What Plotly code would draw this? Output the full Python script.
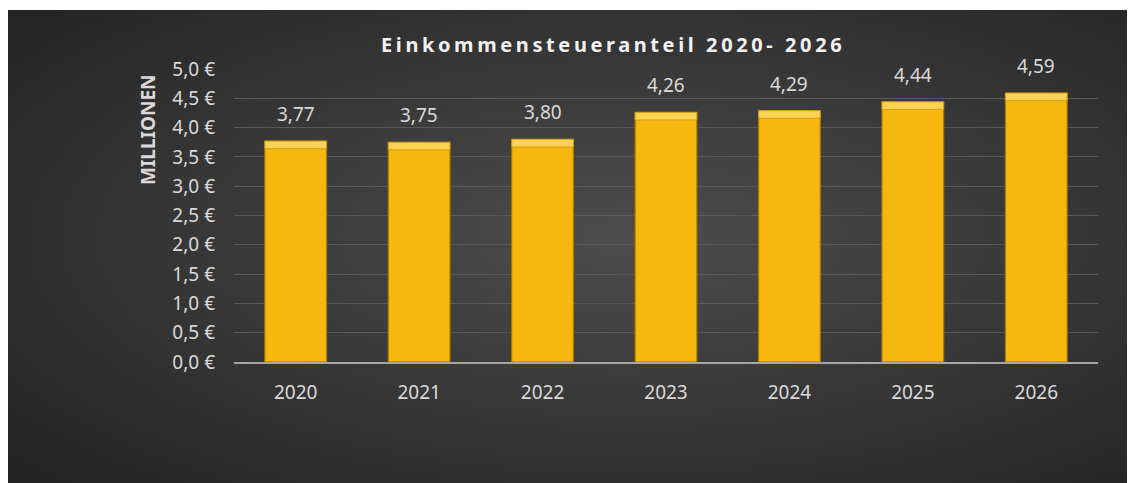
import plotly.graph_objects as go
import urllib.parse

years = ["2020", "2021", "2022", "2023", "2024", "2025", "2026"]
values = [3.77, 3.75, 3.80, 4.26, 4.29, 4.44, 4.59]
tick_vals = [0, 0.5, 1.0, 1.5, 2.0, 2.5, 3.0, 3.5, 4.0, 4.5, 5.0]
tick_text = [f"{v:.1f}".replace(".", ",") + " €" for v in tick_vals]
title_text = "Einkommensteueranteil 2020- 2026"
axis_title = "MILLIONEN"

# page offset caused by default body margin
OFF = 8
W, H = 1135 - OFF, 483 - OFF
L, R, T, B = 234 - OFF, 1135 - 1098, 69 - OFF, 483 - 362
pw, ph = W - L - R, H - T - B

def px_x(page_x):
    return (page_x - OFF - L) / pw

def px_y(page_y):
    return (H - B - (page_y - OFF)) / ph

svg = (
    '<svg xmlns="http://www.w3.org/2000/svg" width="1128" height="473" preserveAspectRatio="none">'
    '<defs><radialGradient id="g" cx="55%" cy="48%" r="72%">'
    '<stop offset="0%" stop-color="#4d4d4d"/>'
    '<stop offset="100%" stop-color="#242424"/>'
    '</radialGradient></defs>'
    '<rect width="1128" height="473" fill="url(#g)"/></svg>'
)
bg_src = "data:image/svg+xml;charset=utf-8," + urllib.parse.quote(svg)

bevel = 0.13

fig = go.Figure()
fig.add_trace(go.Bar(
    x=years, y=values,
    marker=dict(color="#F6B80F", line=dict(color="#A87A06", width=1.2)),
    hoverinfo="skip",
))
fig.add_trace(go.Bar(
    x=years, y=[bevel] * len(values), base=[v - bevel for v in values],
    marker=dict(color="#FAD255", line=dict(color="#C9960A", width=0.8)),
    hoverinfo="skip",
))

for i, v in enumerate(values):
    fig.add_annotation(
        x=i, y=v, xref="x", yref="y", text=f"{v:.2f}".replace(".", ","),
        showarrow=False, yanchor="bottom", yshift=12,
        font=dict(color="#D9D9D9", size=19, family="Noto Sans"),
    )

x0 = px_x(7)
y0 = px_y(10)
fig.add_layout_image(dict(
    source=bg_src, xref="paper", yref="paper",
    x=x0, y=y0, sizex=px_x(1135) - x0, sizey=y0 - px_y(483),
    xanchor="left", yanchor="top", sizing="stretch", layer="below",
))

fig.add_annotation(
    text='<b><span style="letter-spacing:3.6px">' + title_text + '</span></b>',
    xref="paper", yref="paper", x=px_x(613), y=px_y(44),
    xanchor="center", yanchor="middle", showarrow=False,
    font=dict(family="Noto Sans", size=20, color="#F2F2F2"),
)
fig.add_annotation(
    text="<b>" + axis_title + "</b>",
    xref="paper", yref="paper", x=px_x(148), y=px_y(130),
    xanchor="center", yanchor="middle", showarrow=False, textangle=-90,
    font=dict(family="Noto Sans", size=19, color="#D9D9D9"),
)

fig.update_layout(
    width=W, height=H,
    margin=dict(l=L, r=R, t=T, b=B),
    paper_bgcolor="white",
    plot_bgcolor="rgba(0,0,0,0)",
    separators=",.",
    barmode="overlay",
    bargap=0.5,
    showlegend=False,
    font=dict(family="Noto Sans", color="#D9D9D9"),
    xaxis=dict(
        type="category",
        showgrid=False, showline=True, linecolor="#A6A6A6", linewidth=1.5,
        ticks="", tickfont=dict(size=19, color="#D9D9D9"), ticklabelstandoff=12,
    ),
    yaxis=dict(
        range=[0, 5.0], tickvals=tick_vals, ticktext=tick_text,
        showgrid=True, gridcolor="#595959", gridwidth=1, zeroline=False,
        showline=False, ticks="", tickfont=dict(size=19, color="#D9D9D9"),
        ticklabelstandoff=18,
    ),
)

fig.write_html("out.html")
